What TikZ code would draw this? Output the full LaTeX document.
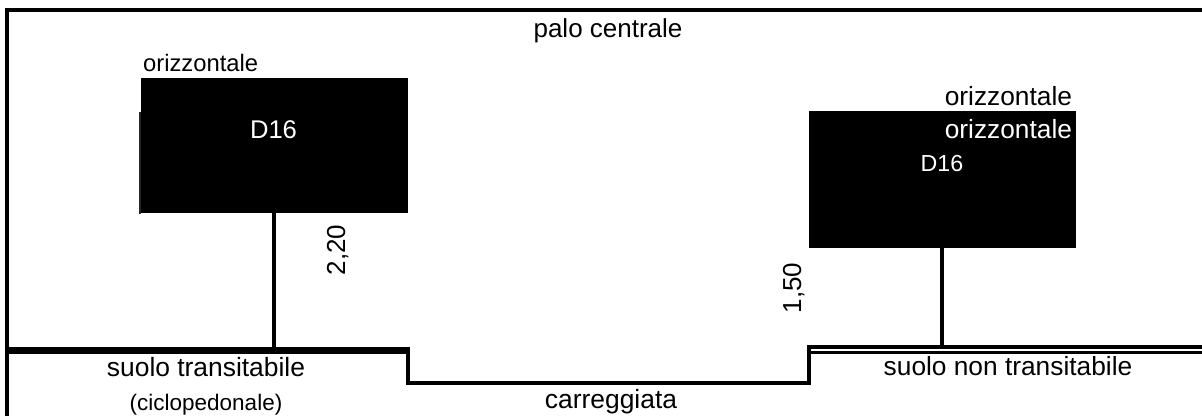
\documentclass[tikz,border=0pt]{standalone}
\usepackage{fontspec}
\setmainfont{Liberation Sans}
\newcommand\fsz[1]{\fontsize{#1}{#1}\selectfont}
\tikzset{
  lbl/.style={inner sep=0pt, outer sep=0pt, anchor=base},
  sign/.style={fill=black, draw=none, inner sep=0pt, outer sep=0pt},
  pole/.style={line width=3.5pt},
  frame/.style={line width=4pt},
}
\begin{document}
\begin{tikzpicture}[x=1pt,y=-1pt]
\useasboundingbox (0,0) rectangle (1202,416);
% frame
\draw[frame] (7,416) -- (7,9.5) -- (1202,9.5);
% signs
\node[sign, minimum width=267pt, minimum height=135.6pt] (boxL) at (274.5,145.5) {};
\fill[black!85] (138.6,111.7) rectangle (141.2,214.3);
\node[sign, minimum width=267pt, minimum height=136.7pt] (boxR) at (942.5,179.35) {};
% ground
\coordinate (gL) at (274,348);
\coordinate (gR) at (942,346);
\draw[pole] (boxL.south -| gL) -- (gL);
\draw[pole] (boxR.south -| gR) -- (gR);
\draw[line width=7pt] (7,350.3) -- (410,350.3);
\draw[line width=4pt] (408,347) -- (408,383) -- (808.7,383) -- (808.7,347.3) -- (1202,347.3);
\draw[line width=3pt] (810.5,352.3) -- (1202,352.3);
% texts
\node[lbl] (palo) at (608,37) {\fsz{26}palo centrale};
\node[lbl] (orL) at (200.7,71) {\fsz{23.8}orizzontale};
\node[lbl, text=white] (dL) at (273.5,138.3) {\fsz{25.6}D16};
\node[lbl, anchor=base east] (orR1) at (1072,105) {\fsz{26.3}orizzontale};
\node[lbl, anchor=base east, text=white] (orR2) at (1072,138.3) {\fsz{26.3}orizzontale};
\node[lbl, text=white] (dR) at (942,171.7) {\fsz{23.2}D16};
\node[lbl, rotate=90] (h1) at (345,250) {\fsz{26}2,20};
\node[lbl, rotate=90] (h2) at (801,288) {\fsz{26}1,50};
\node[lbl] (sT) at (206,376.7) {\fsz{26.4}suolo transitabile};
\node[lbl] (cic) at (206,410.5) {\fsz{22.5}(ciclopedonale)};
\node[lbl] (car) at (611,408) {\fsz{26.4}carreggiata};
\node[lbl] (sN) at (1008,375.7) {\fsz{26.3}suolo non transitabile};
\end{tikzpicture}
\end{document}
